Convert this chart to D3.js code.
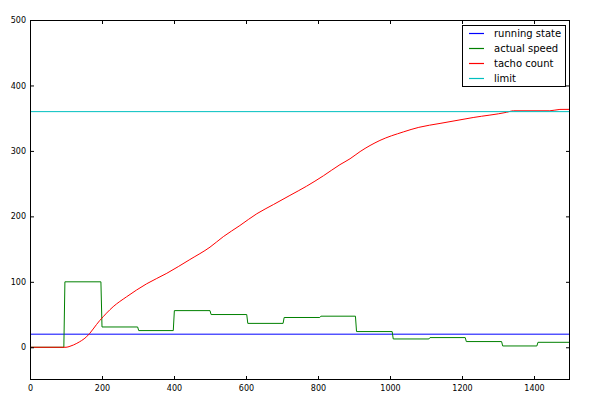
<!DOCTYPE html>
<html>
<head>
<meta charset="utf-8">
<script src="https://cdn.jsdelivr.net/npm/d3@7"></script>
<style>
  html, body { margin: 0; padding: 0; background: #fff; }
  svg { display: block; font-family: "DejaVu Sans", sans-serif; }
</style>
</head>
<body>
<svg id="chart" width="600" height="400"></svg>
<script>
// ---- data ----
const xTicks = [0, 200, 400, 600, 800, 1000, 1200, 1400];
const yTicks = [0, 100, 200, 300, 400, 500];

const runningX = [0, 1500];
const runningY = [20, 20];

const speedX = [0, 94, 97, 197, 200, 299, 302, 398, 401, 500, 503, 602, 605, 703, 706, 805, 808, 904, 907, 1006, 1009, 1108, 1111, 1209, 1212, 1310, 1313, 1408, 1411, 1500];
const speedY = [0, 0, 100, 100, 31, 31, 25.5, 25.5, 56, 56, 50, 50, 36.5, 36.5, 45.5, 45.5, 47.5, 47.5, 24, 24, 12.7, 12.7, 14.8, 14.8, 8.7, 8.7, 2, 2, 7.6, 7.6];

const tachoX = [0, 100, 111, 130, 157, 194, 231, 268, 324, 380, 444, 500, 537, 583, 630, 676, 722, 768, 815, 861, 889, 917, 972, 1037, 1080, 1139, 1231, 1324, 1343, 1444, 1472, 1500];
const tachoY = [0, 0, 1.5, 6, 16, 41, 62, 77, 97, 113, 134, 153, 169, 186, 204, 218, 232, 246, 262, 279, 288, 299, 316, 329, 336, 342, 351, 359, 361.3, 361.3, 363.4, 363.5];

const limitX = [0, 1500];
const limitY = [360, 360];

const seriesNames = ["running state", "actual speed", "tacho count", "limit"];
const seriesColors = ["#0000ff", "#008000", "#ff0000", "#00bfbf"];

// ---- layout ----
const svg = d3.select("#chart");
const L = 30, R = 570, T = 20, B = 380;
const x = d3.scaleLinear().domain([0, 1500]).range([L, R]);
const y = d3.scaleLinear().domain([-50, 500]).range([B, T]);

const zip = (xs, ys) => xs.map((v, i) => [v, ys[i]]);
const series = [
  { pts: zip(runningX, runningY), curve: d3.curveLinear },
  { pts: zip(speedX, speedY), curve: d3.curveLinear },
  { pts: zip(tachoX, tachoY), curve: d3.curveMonotoneX },
  { pts: zip(limitX, limitY), curve: d3.curveLinear }
];

svg.append("clipPath").attr("id", "clip")
  .append("rect").attr("x", L).attr("y", T).attr("width", R - L).attr("height", B - T);

const plot = svg.append("g").attr("clip-path", "url(#clip)");
series.forEach((s, i) => {
  const line = d3.line().x(d => x(d[0])).y(d => y(d[1])).curve(s.curve);
  plot.append("path").datum(s.pts)
    .attr("fill", "none")
    .attr("stroke", seriesColors[i])
    .attr("stroke-width", 1)
    .attr("d", line);
});

// ---- axes (ticks inward, on all four sides) ----
const tickFont = 8;
const axB = svg.append("g").attr("transform", `translate(0,${B})`)
  .call(d3.axisBottom(x).tickValues(xTicks).tickSize(-4).tickPadding(4).tickFormat(d3.format("d")));
const axT = svg.append("g").attr("transform", `translate(0,${T})`)
  .call(d3.axisTop(x).tickValues(xTicks).tickSize(-4).tickFormat(""));
const axL = svg.append("g").attr("transform", `translate(${L},0)`)
  .call(d3.axisLeft(y).tickValues(yTicks).tickSize(-4).tickPadding(4).tickFormat(d3.format("d")));
const axR = svg.append("g").attr("transform", `translate(${R},0)`)
  .call(d3.axisRight(y).tickValues(yTicks).tickSize(-4).tickFormat(""));

[axB, axT, axL, axR].forEach(g => {
  g.select(".domain").remove();
  g.selectAll(".tick line").attr("stroke", "#000");
  g.selectAll("text").attr("font-size", tickFont).attr("fill", "#000")
    .attr("font-family", "DejaVu Sans, sans-serif");
});
axB.selectAll("text").attr("dy", "0.9em");

svg.append("rect")
  .attr("x", L + 0.5).attr("y", T + 0.5)
  .attr("width", R - L - 1).attr("height", B - T - 1)
  .attr("fill", "none").attr("stroke", "#000").attr("stroke-width", 1);

// ---- legend ----
const lg = svg.append("g");
lg.append("rect")
  .attr("x", 462.5).attr("y", 25.5).attr("width", 103).attr("height", 61)
  .attr("fill", "#fff").attr("stroke", "#000").attr("stroke-width", 1);
seriesNames.forEach((name, i) => {
  const yy = 33.5 + i * 15;
  lg.append("path")
    .attr("d", `M469,${yy}H484`)
    .attr("fill", "none")
    .attr("stroke", seriesColors[i]).attr("stroke-width", 1.2);
  lg.append("text").attr("x", 494).attr("y", yy).attr("dy", "0.35em")
    .attr("font-size", 10).attr("fill", "#000").text(name);
});
</script>
</body>
</html>
